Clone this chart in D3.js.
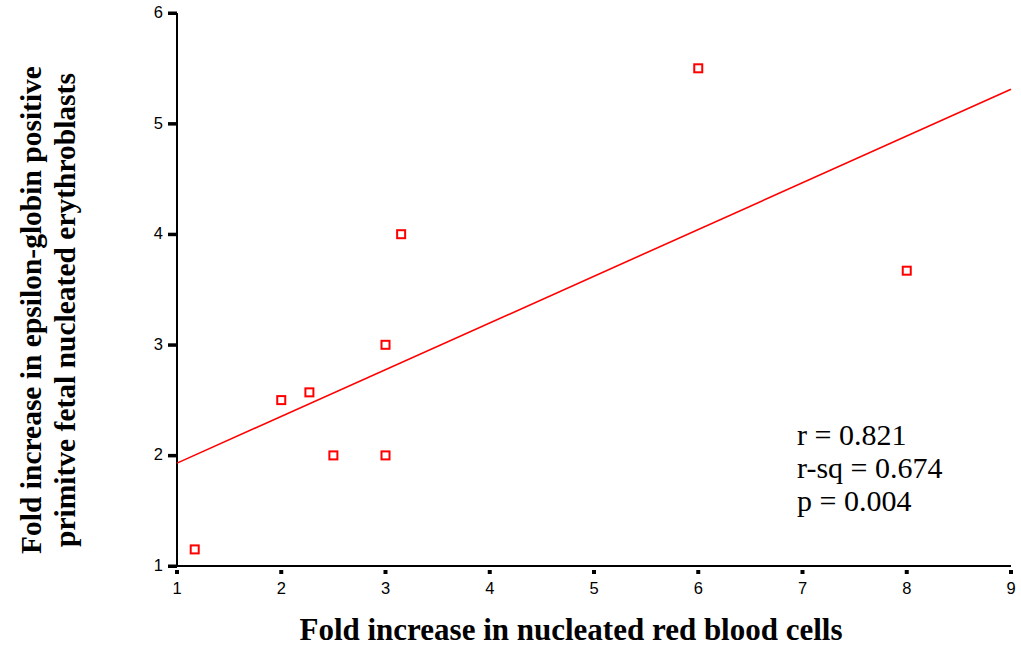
<!DOCTYPE html>
<html>
<head>
<meta charset="utf-8">
<script src="https://cdn.jsdelivr.net/npm/d3@7"></script>
<style>
  body { margin: 0; background: #fff; }
</style>
</head>
<body>
<div id="chart"></div>
<script>
// data
const xVals = [1.17, 2.0, 2.27, 2.5, 3.0, 3.0, 3.15, 6.0, 8.0]
const yVals = [1.15, 2.5, 2.57, 2.0, 3.0, 2.0, 4.0, 5.5, 3.67]
const fitX = [1, 9]
const fitY = [1.93, 5.31]
const xTicks = [1, 2, 3, 4, 5, 6, 7, 8, 9]
const yTicks = [1, 2, 3, 4, 5, 6]
const stats = ["r = 0.821", "r-sq = 0.674", "p = 0.004"]

const width = 1021
const height = 650
const margin = {top: 13, right: 10, bottom: 84, left: 177}
const serif = "'Times New Roman', 'Liberation Serif', serif"

const svg = d3.select("#chart")
    .append("svg")
    .attr("width", width)
    .attr("height", height)

const x = d3.scaleLinear()
    .domain([1, 9])
    .range([margin.left, width - margin.right])

const y = d3.scaleLinear()
    .domain([1, 6])
    .range([height - margin.bottom, margin.top])

// x axis: thin line, small square ticks below
const gx = svg.append("g")
    .attr("transform", `translate(0,${height - margin.bottom})`)
gx.append("line")
    .attr("x1", x(1)).attr("x2", x(9))
    .attr("stroke", "#000").attr("stroke-width", 2)
gx.selectAll("rect")
    .data(xTicks)
    .join("rect")
    .attr("x", d => x(d) - 2)
    .attr("y", 4)
    .attr("width", 4)
    .attr("height", 4)
    .attr("fill", "#000")
gx.selectAll("text")
    .data(xTicks)
    .join("text")
    .attr("x", d => x(d))
    .attr("y", 28)
    .attr("text-anchor", "middle")
    .style("font-family", "Arial, 'Liberation Sans'")
    .style("font-size", "16.5px")
    .text(d => d)

// y axis: line with thick ticks to the left
const gy = svg.append("g")
    .attr("transform", `translate(${margin.left},0)`)
gy.append("line")
    .attr("y1", y(1)).attr("y2", y(6))
    .attr("stroke", "#000").attr("stroke-width", 2)
gy.selectAll("rect")
    .data(yTicks)
    .join("rect")
    .attr("x", -9)
    .attr("y", d => y(d) - 1.5)
    .attr("width", 9)
    .attr("height", 3.5)
    .attr("fill", "#000")
gy.selectAll("text")
    .data(yTicks)
    .join("text")
    .attr("x", -14)
    .attr("y", d => y(d))
    .attr("dy", "0.3em")
    .attr("text-anchor", "end")
    .style("font-family", "Arial, 'Liberation Sans'")
    .style("font-size", "16.5px")
    .text(d => d)

// regression line
svg.append("path")
    .datum(d3.zip(fitX, fitY))
    .attr("fill", "none")
    .attr("stroke", "#ff0000")
    .attr("stroke-width", 1.6)
    .attr("d", d3.line().x(d => x(d[0])).y(d => y(d[1])))

// points
svg.append("g")
    .selectAll("rect")
    .data(d3.zip(xVals, yVals))
    .join("rect")
    .attr("x", d => x(d[0]) - 4)
    .attr("y", d => y(d[1]) - 4)
    .attr("width", 8)
    .attr("height", 8)
    .attr("fill", "#fff")
    .attr("stroke", "#ff0000")
    .attr("stroke-width", 2)

// stats text
svg.append("g")
    .selectAll("text")
    .data(stats)
    .join("text")
    .attr("x", 797)
    .attr("y", (d, i) => 445 + i * 33)
    .style("font-family", serif)
    .style("font-size", "30px")
    .text(d => d)

// axis titles
svg.append("text")
    .attr("x", 571)
    .attr("y", 640)
    .attr("text-anchor", "middle")
    .style("font-family", serif)
    .style("font-size", "31px")
    .style("font-weight", "bold")
    .text("Fold increase in nucleated red blood cells")

const yTitle = svg.append("g")
    .attr("transform", `translate(0,310) rotate(-90)`)
yTitle.append("text")
    .attr("x", 0)
    .attr("y", 41)
    .attr("text-anchor", "middle")
    .style("font-family", serif)
    .style("font-size", "29.5px")
    .style("font-weight", "bold")
    .text("Fold increase in epsilon-globin positive")
yTitle.append("text")
    .attr("x", 0)
    .attr("y", 75)
    .attr("text-anchor", "middle")
    .style("font-family", serif)
    .style("font-size", "29.5px")
    .style("font-weight", "bold")
    .text("primitve fetal nucleated erythroblasts")
</script>
</body>
</html>
